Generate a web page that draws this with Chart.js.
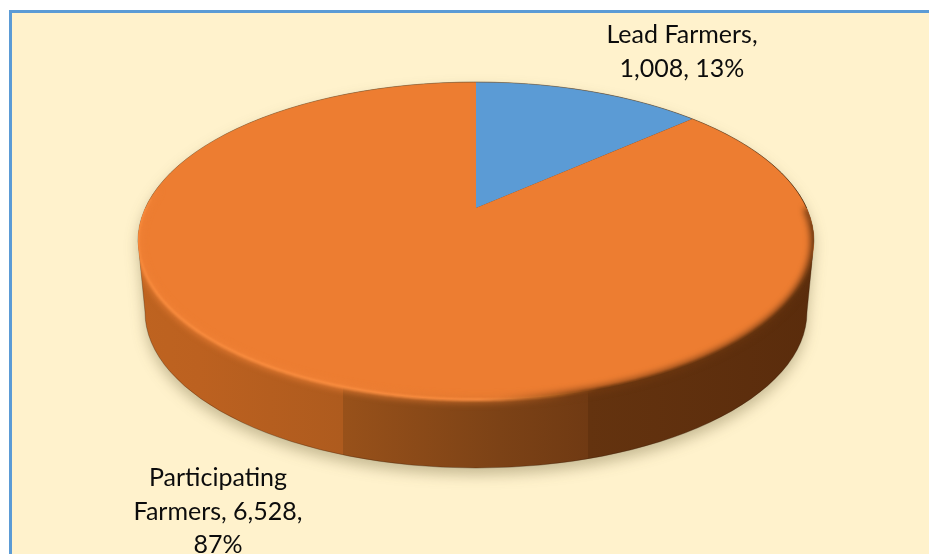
<!DOCTYPE html>
<html><head><meta charset="utf-8">
<style>
html,body{margin:0;padding:0;background:#fff;width:929px;height:554px;overflow:hidden}
#panel{position:absolute;left:9px;top:10px;right:-10px;bottom:-10px;background:#FFF2CC;border:3px solid #5B9BD5;}
#c{position:absolute;left:0;top:0}
</style>
<script src="https://cdn.jsdelivr.net/npm/chart.js@4"></script>
</head><body>
<div id="panel"></div>
<canvas id="c" width="929" height="554"></canvas>
<script>
const categories = ['Lead Farmers', 'Participating Farmers'];
const values = [1008, 6528];
const percents = [13, 87];
const colors = ['#5B9BD5', '#ED7D31'];

// perspective view of the disc
const CX = 476, CY = 208, A = 152, B = 330.6, K = 0.2076;
const DROP = {cy: 312, rx: 331, ry: 156, faceCy: 241, faceRx: 338, faceRy: 159};
const labelAnchors = [{x: 682, y: 35}, {x: 218, y: 478}];

function project(theta) {
  const u = Math.sin(theta), v = -Math.cos(theta), w = 1 - K * v;
  return [CX + B * u / w, CY + A * v / w];
}
function facePath(ctx, from, to) {
  ctx.beginPath();
  const n = 360;
  for (let i = 0; i <= n; i++) {
    const p = project(from + (to - from) * i / n);
    i ? ctx.lineTo(p[0], p[1]) : ctx.moveTo(p[0], p[1]);
  }
}
function bodyPath(ctx) {
  ctx.beginPath();
  ctx.moveTo(CX - DROP.faceRx, DROP.faceCy);
  ctx.ellipse(CX, DROP.faceCy, DROP.faceRx, DROP.faceRy, 0, Math.PI, 2 * Math.PI);
  ctx.lineTo(CX + DROP.rx, DROP.cy);
  ctx.ellipse(CX, DROP.cy, DROP.rx, DROP.ry, 0, 0, Math.PI);
  ctx.closePath();
}
function wrap(ctx, text, maxW) {
  const out = []; let line = '';
  for (const word of text.split(' ')) {
    const t = line ? line + ' ' + word : word;
    if (line && ctx.measureText(t).width > maxW) { out.push(line); line = word; } else line = t;
  }
  out.push(line);
  return out;
}

const disc3d = {
  id: 'disc3d',
  beforeDatasetsDraw(chart) {
    const ctx = chart.ctx, meta = chart.getDatasetMeta(0);
    // side wall with soft ground shadow
    const g = ctx.createLinearGradient(137, 0, 815, 0);
    const stop = (x, c) => g.addColorStop((x - 137) / 678, c);
    stop(137, '#BE6320'); stop(200, '#BC6120'); stop(342.5, '#AE5B1E');
    stop(343.5, '#98511A'); stop(500, '#7C4216'); stop(587.5, '#703A13');
    stop(588.5, '#64330F'); stop(815, '#5A2C0C');
    ctx.save();
    ctx.shadowColor = 'rgba(70,60,20,0.30)';
    ctx.shadowBlur = 14; ctx.shadowOffsetY = 7; ctx.shadowOffsetX = 0;
    bodyPath(ctx); ctx.fillStyle = g; ctx.fill();
    ctx.restore();
    ctx.save();
    bodyPath(ctx); ctx.strokeStyle = 'rgba(50,25,5,0.4)'; ctx.lineWidth = 0.8; ctx.stroke();
    ctx.restore();

    // library arcs, rendered row by row through the perspective
    const el0 = meta.data[0], R = el0.outerRadius;
    const top = Math.floor(CY - A / (1 + K)) - 1, bottom = Math.ceil(CY + A / (1 - K)) + 1;
    for (let y = top; y < bottom; y++) {
      const d = y + 0.5 - CY, v = d / (A + K * d), w = 1 - K * v;
      const sx = B / (w * R), sy = A / (w * w * R);
      ctx.save();
      ctx.beginPath(); ctx.rect(0, y, chart.width, 1); ctx.clip();
      ctx.setTransform(sx, 0, 0, sy, CX - el0.x * sx, y + 0.5 - (el0.y + v * R) * sy);
      meta.data.forEach(el => el.draw(ctx));
      ctx.restore();
    }

    // bevelled rim: bright on the lit side, sinking into shadow on the right
    const rim = ctx.createLinearGradient(137, 0, 815, 0);
    const rs = (x, c) => rim.addColorStop((x - 137) / 678, c);
    rs(137, '#F98C3E'); rs(480, '#FB8F42'); rs(555, '#B0601F'); rs(600, '#6A360F'); rs(790, '#66340F'); rs(815, '#7A4014');
    const soft = ctx.createLinearGradient(137, 0, 815, 0);
    const ss = (x, c) => soft.addColorStop((x - 137) / 678, c);
    ss(137, 'rgba(240,130,55,0.75)'); ss(343, 'rgba(240,130,55,0.75)'); ss(500, 'rgba(215,115,45,0.55)');
    ss(570, 'rgba(120,60,18,0.7)'); ss(815, 'rgba(95,48,14,0.9)');
    ctx.save();
    bodyPath(ctx); ctx.clip();
    ctx.filter = 'blur(3px)';
    facePath(ctx, Math.PI * 0.5, Math.PI * 1.54);
    ctx.strokeStyle = soft; ctx.lineWidth = 7; ctx.stroke();
    ctx.filter = 'blur(1.3px)';
    facePath(ctx, Math.PI * 0.53, Math.PI * 1.52);
    ctx.strokeStyle = rim; ctx.lineWidth = 2.5; ctx.stroke();
    ctx.restore();
    // fine outline at the far edge
    ctx.save();
    facePath(ctx, Math.PI * 1.5, Math.PI * 2.5);
    const og = ctx.createLinearGradient(476, 0, 815, 0);
    og.addColorStop(0, 'rgba(120,105,70,0.35)'); og.addColorStop(0.7, 'rgba(100,80,50,0.45)'); og.addColorStop(1, 'rgba(60,30,5,0.9)');
    ctx.strokeStyle = og; ctx.lineWidth = 0.8; ctx.stroke();
    ctx.restore();
    return false;
  },
  afterDraw(chart) {
    const ctx = chart.ctx;
    ctx.save();
    ctx.font = '25px Lato, "Open Sans", sans-serif';
    ctx.fillStyle = '#0c0c0c';
    ctx.textAlign = 'center'; ctx.textBaseline = 'middle';
    categories.forEach((c, i) => {
      const text = `${c}, ${values[i].toLocaleString('en-US')}, ${percents[i]}%`;
      wrap(ctx, text, 185).forEach((ln, j) => ctx.fillText(ln, labelAnchors[i].x, labelAnchors[i].y + j * 33.5));
    });
    ctx.restore();
  }
};

new Chart(document.getElementById('c'), {
  type: 'pie',
  data: { labels: categories, datasets: [{ data: values, backgroundColor: colors, borderWidth: 0 }] },
  options: {
    responsive: false, animation: false,
    plugins: { legend: { display: false }, tooltip: { enabled: false } }
  },
  plugins: [disc3d]
});
</script>
</body></html>
